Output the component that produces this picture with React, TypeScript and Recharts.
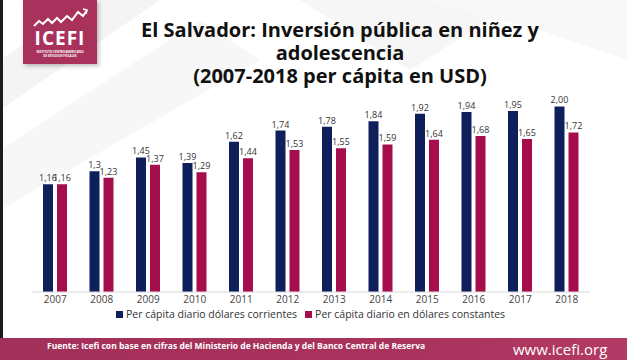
import { Bar, BarChart, LabelList, XAxis, YAxis } from 'recharts';

const years = ['2007', '2008', '2009', '2010', '2011', '2012', '2013', '2014', '2015', '2016', '2017', '2018'];
const corrientes = [1.16, 1.3, 1.45, 1.39, 1.62, 1.74, 1.78, 1.84, 1.92, 1.94, 1.95, 2.0];
const constantes = [1.16, 1.23, 1.37, 1.29, 1.44, 1.53, 1.55, 1.59, 1.64, 1.68, 1.65, 1.72];

const seriesNames = ['Per cápita diario dólares corrientes', 'Per cápita diario en dólares constantes'];
const NAVY = '#0f1f5c';
const CRIMSON = '#a50d4c';
const BRAND = '#a8325c';

const data = years.map((y, i) => ({ year: y, corrientes: corrientes[i], constantes: constantes[i] }));

const fmt = (v: any) => {
  const n = Number(v);
  const s = Number.isInteger(n) ? n.toFixed(2) : String(n);
  return s.replace('.', ',');
};

function Logo() {
  return (
    <div style={{ position: 'absolute', left: 23, top: 0, width: 74, height: 64, background: BRAND, boxShadow: '2px 2px 4px rgba(0,0,0,0.25)' }}>
      <svg width={74} height={64}>
        <polyline points="11,26 16,21 20,24 25,19 29,23 34,18 38,22 44,16 49,20 55,12 60,16 64,10" fill="none" stroke="#fff" strokeWidth={2} />
        <polyline points="60,9 64,10 63,14" fill="none" stroke="#fff" strokeWidth={1.5} />
        <text x={37} y={45} textAnchor="middle" fill="#fff" fontFamily="Open Sans" fontWeight={700} fontSize={19} letterSpacing={1}>ICEFI</text>
        <text x={37} y={53} textAnchor="middle" fill="#fff" fontFamily="Open Sans" fontWeight={700} fontSize={3}>INSTITUTO CENTROAMERICANO</text>
        <text x={37} y={57} textAnchor="middle" fill="#fff" fontFamily="Open Sans" fontWeight={700} fontSize={3}>DE ESTUDIOS FISCALES</text>
      </svg>
    </div>
  );
}

export default function App() {
  return (
    <div style={{ position: 'relative', width: 627, height: 360, background: '#fff', overflow: 'hidden', fontFamily: 'Open Sans' }}>
      <style>{'body{margin:0}'}</style>
      <svg width={627} height={360} style={{ position: 'absolute', left: 0, top: 0 }}>
        <polygon points="0,60 90,0 160,0 0,110" fill="#f4f4f4" />
        <polygon points="0,150 200,20 260,60 0,210" fill="#f7f7f7" />
        <polygon points="300,0 520,0 410,70" fill="#f6f6f6" />
        <polygon points="420,0 627,0 627,60 540,30" fill="#f8f8f8" />
        <rect x={0} y={0} width={3} height={360} fill="#1c1c1c" />
      </svg>
      <Logo />
      <div style={{ position: 'absolute', left: 0, top: 18, width: 680, textAlign: 'center', fontWeight: 700, fontSize: 20, lineHeight: '23px', color: '#111' }}>
        El Salvador: Inversión pública en niñez y<br />adolescencia<br />(2007-2018 per cápita en USD)
      </div>
      <BarChart width={627} height={360} data={data} margin={{ top: 60, right: 37, left: 32, bottom: 48 }} barGap={4} style={{ position: 'absolute', left: 0, top: 0 }}>
        <XAxis dataKey="year" height={20} tickLine={false} tickSize={0} tickMargin={4} axisLine={{ stroke: '#d9d9d9' }} tick={{ fontSize: 10, fill: '#444', fontFamily: 'Open Sans' }} interval={0} />
        <YAxis hide domain={[0, 2.5]} />
        <Bar dataKey="corrientes" fill={NAVY} barSize={10} isAnimationActive={false}>
          <LabelList dataKey="corrientes" position="top" offset={3} formatter={fmt} style={{ fontSize: 9, fill: '#333', fontFamily: 'Open Sans' }} />
        </Bar>
        <Bar dataKey="constantes" fill={CRIMSON} barSize={10} isAnimationActive={false}>
          <LabelList dataKey="constantes" position="top" offset={3} formatter={fmt} style={{ fontSize: 9, fill: '#333', fontFamily: 'Open Sans' }} />
        </Bar>
      </BarChart>
      <div style={{ position: 'absolute', left: 116, top: 307, display: 'flex', alignItems: 'center', fontSize: 10.5, color: '#333' }}>
        <span style={{ width: 7, height: 7, background: NAVY, marginRight: 3 }} />
        <span style={{ marginRight: 8 }}>{seriesNames[0]}</span>
        <span style={{ width: 7, height: 7, background: CRIMSON, marginRight: 3 }} />
        <span>{seriesNames[1]}</span>
      </div>
      <div style={{ position: 'absolute', left: 0, top: 338, width: 627, height: 22, background: `linear-gradient(90deg, #a3305a, ${BRAND} 60%, #b23a64)` }} />
      <div style={{ position: 'absolute', left: 47, top: 340, fontSize: 8.5, fontWeight: 700, color: '#fff', whiteSpace: 'nowrap' }}>
        Fuente: Icefi con base en cifras del Ministerio de Hacienda y del Banco Central de Reserva
      </div>
      <div style={{ position: 'absolute', left: 513, top: 339, fontSize: 15, color: '#fff', whiteSpace: 'nowrap' }}>www.icefi.org</div>
    </div>
  );
}
